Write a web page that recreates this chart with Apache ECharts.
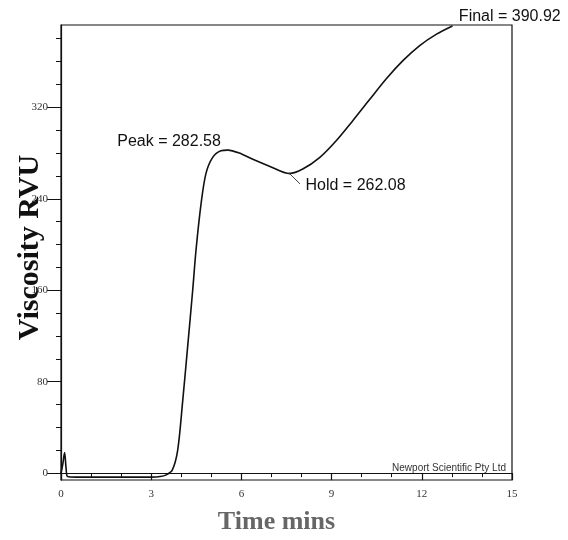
<!DOCTYPE html>
<html>
<head>
<meta charset="utf-8">
<script src="https://cdn.jsdelivr.net/npm/echarts@6/dist/echarts.min.js"></script>
<style>
  html, body { margin: 0; padding: 0; background: #fff; }
  #chart { width: 568px; height: 540px; }
</style>
</head>
<body>
<div id="chart"></div>
<script>
// RVA pasting curve
const timeMins = [0, 0.06, 0.12, 0.17, 0.22, 0.5, 1, 1.5, 2, 2.5, 3, 3.3, 3.5, 3.7, 3.88, 4.04, 4.21, 4.38, 4.49, 4.66, 4.82, 5.04, 5.32, 5.55, 5.93, 6.38, 6.93, 7.6, 8.04, 8.6, 9.16, 9.71, 10.27, 10.82, 11.38, 11.93, 12.49, 13.0];
const viscosity = [0, 8, 18, 4, -3, -3.5, -3.5, -3.5, -3.5, -3.5, -3.5, -3, -1.5, 2.6, 20, 61, 110, 160, 195, 236, 262, 276, 282, 282.58, 280, 274.5, 268.5, 262.08, 266, 276, 291, 308.5, 327, 345, 361, 374, 384, 390.92];

const yTicks = [0, 20, 40, 60, 80, 100, 120, 140, 160, 180, 200, 220, 240, 260, 280, 300, 320, 340, 360, 380];
const yLabels = [0, 80, 160, 240, 320];

const peak = [5.55, 282.58];
const hold = [7.6, 262.08];
const final = [13.0, 390.92];

const chart = echarts.init(document.getElementById('chart'));

const serif = '"Liberation Serif", "DejaVu Serif", serif';
const sans = '"Liberation Sans", Arial, sans-serif';

const option = {
  animation: false,
  grid: {
    left: 61, right: 56, top: 25, bottom: 60,
    outerBoundsMode: 'none',
    show: true, borderColor: '#111', borderWidth: 1.2
  },
  xAxis: {
    type: 'value',
    min: 0, max: 15, interval: 3,
    name: 'Time mins',
    nameLocation: 'middle',
    nameGap: 29,
    nameMoveOverlap: false,
    nameTextStyle: { fontFamily: serif, fontSize: 26, fontWeight: 'bold', color: '#666', padding: [0, 20, 0, 0] },
    axisLine: { lineStyle: { color: '#111', width: 1.2 } },
    axisTick: { length: 7, lineStyle: { color: '#111', width: 1.2 } },
    minorTick: { show: true, splitNumber: 3, length: 4, lineStyle: { color: '#111' } },
    axisLabel: { fontFamily: serif, fontSize: 11, color: '#333', margin: 9 },
    splitLine: { show: false }
  },
  yAxis: [{
    type: 'value',
    min: -6, max: 392,
    name: 'Viscosity RVU',
    nameLocation: 'middle',
    nameGap: 16,
    nameMoveOverlap: false,
    nameTextStyle: { fontFamily: serif, fontSize: 30, fontWeight: 'bold', color: '#111', padding: [0, 0, 0, 10] },
    axisLine: { lineStyle: { color: '#111', width: 1.2 } },
    axisTick: { customValues: yLabels, length: 14, lineStyle: { color: '#111' } },
    axisLabel: { customValues: yLabels, fontFamily: serif, fontSize: 11, color: '#333', margin: 13 },
    splitLine: { show: false }
  }, {
    // minor ticks every 20 RVU, same scale, drawn on the left
    type: 'value',
    position: 'left',
    min: -6, max: 392,
    axisLine: { show: false },
    axisTick: { show: true, customValues: yTicks, length: 5, lineStyle: { color: '#111' } },
    axisLabel: { show: false },
    splitLine: { show: false }
  }],
  series: [{
    type: 'line',
    data: timeMins.map((t, i) => [t, viscosity[i]]),
    smooth: 0.3,
    showSymbol: false,
    lineStyle: { color: '#111', width: 1.6 },
    markPoint: {
      symbol: 'circle',
      symbolSize: 2,
      itemStyle: { color: '#333' },
      label: { fontFamily: sans, fontSize: 16, color: '#111' },
      data: [
        { coord: peak, label: { formatter: 'Peak = 282.58', position: 'left', distance: 6, offset: [0, -8] } },
        { coord: hold, label: { formatter: 'Hold = 262.08', position: 'right', distance: 15, offset: [0, 12] } },
        { coord: final, label: { formatter: 'Final = 390.92', position: 'right', distance: 6, offset: [0, -10] } }
      ]
    },
    markLine: {
      symbol: 'none',
      silent: true,
      lineStyle: { color: '#444', width: 1, type: 'solid' },
      label: { show: false },
      data: [
        [{ coord: hold }, { coord: [7.95, 253] }],
        [{ coord: final }, { coord: [13.0, 397] }]
      ]
    }
  }],
  graphic: [{
    type: 'text',
    right: 62,
    top: 463,
    style: { text: 'Newport Scientific Pty Ltd', font: '10px ' + sans, fill: '#333' }
  }]
};

chart.setOption(option);
</script>
</body>
</html>
